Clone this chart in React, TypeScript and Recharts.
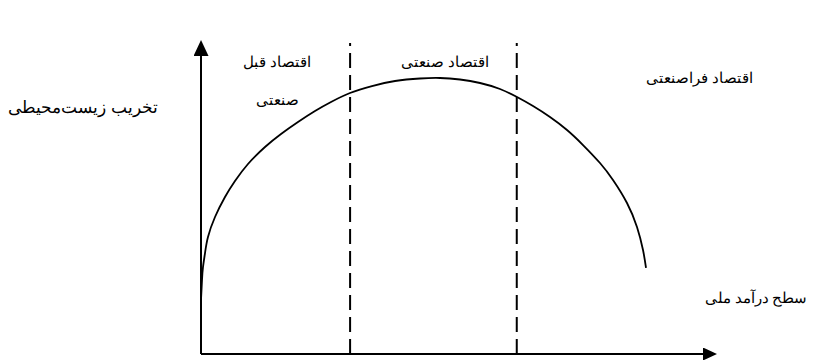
import { LineChart, Line, XAxis, YAxis, ReferenceLine, Label } from "recharts";

// national income level (0-100) vs environmental degradation (0-100)
const incomeLevel = [
  0, 0.2, 0.4, 0.8, 1.39, 2.79, 4.78, 6.77, 9.36, 12.75, 15.94, 19.32, 22.71, 25.9, 29.68, 34.06, 38.65,
  43.63, 47.61, 51.59, 55.58, 59.56, 62.95, 66.14, 69.52, 72.91, 76.1, 79.48, 82.07, 84.86, 86.85, 88.05, 88.65,
];
const degradation = [
  18.12, 24.83, 29.19, 33.89, 39.26, 45.97, 52.68, 58.05, 63.76, 69.46, 73.83, 77.85, 81.54, 84.56, 87.58, 89.93, 91.61,
  92.45, 92.62, 92.11, 90.94, 88.93, 86.24, 83.22, 79.53, 75.17, 70.13, 64.09, 58.39, 50.67, 42.62, 34.9, 28.86,
];

// boundaries between economic stages
const stageBounds = [29.7, 62.9];
const dividerTop = 104.4;

const yAxisTitle = "تخریب زیست‌محیطی";
const xAxisTitle = "سطح درآمد ملی";
const preIndustrial = ["اقتصاد قبل", "صنعتی"];
const industrial = "اقتصاد صنعتی";
const postIndustrial = "اقتصاد فراصنعتی";

const data = incomeLevel.map((x, i) => ({ x, y: degradation[i] }));

const FONT = "'Times New Roman', 'Liberation Serif', 'DejaVu Serif', serif";

type VB = { x?: number; y?: number; width?: number; height?: number };

const textAt = (lines: { text: string; dx: number; dy: number; size?: number }[], fromRight = false) =>
  (props: any) => {
    const vb: VB = props.viewBox || {};
    const bx = (vb.x ?? 0) + (fromRight ? vb.width ?? 0 : 0);
    const by = vb.y ?? 0;
    return (
      <g>
        {lines.map((l, i) => (
          <text
            key={i}
            x={bx + l.dx}
            y={by + l.dy}
            textAnchor="middle"
            dominantBaseline="central"
            fontFamily={FONT}
            fontSize={l.size ?? 15}
            fill="#000"
          >
            {l.text}
          </text>
        ))}
      </g>
    );
  };

export default function App() {
  return (
    <div style={{ position: "absolute", left: 0, top: 0, background: "#fff" }}>
      <LineChart width={815} height={360} data={data} margin={{ top: 56, right: 112, bottom: 5, left: 200 }}>
        <defs>
          <marker id="arrowX" markerWidth={14} markerHeight={13} refX={0} refY={6.5} orient="auto" markerUnits="userSpaceOnUse">
            <path d="M0,0 L14,6.5 L0,13 z" fill="#000" />
          </marker>
          <marker id="arrowY" markerWidth={16} markerHeight={15} refX={0} refY={7.5} orient="auto-start-reverse" markerUnits="userSpaceOnUse">
            <path d="M0,0 L16,7.5 L0,15 z" fill="#000" />
          </marker>
        </defs>
        <XAxis
          type="number"
          dataKey="x"
          domain={[0, 100]}
          height={1}
          tick={false}
          tickLine={false}
          axisLine={{ stroke: "#000", strokeWidth: 2, markerEnd: "url(#arrowX)" }}
        >
          <Label content={textAt([{ text: xAxisTitle, dx: 53, dy: -56 }], true)} />
        </XAxis>
        <YAxis
          type="number"
          domain={[0, 100]}
          width={1}
          tick={false}
          tickLine={false}
          axisLine={{ stroke: "#000", strokeWidth: 2, markerStart: "url(#arrowY)" }}
        >
          <Label content={textAt([{ text: yAxisTitle, dx: -117, dy: 51, size: 16.5 }])} />
        </YAxis>
        <ReferenceLine
          segment={[{ x: stageBounds[0], y: 0 }, { x: stageBounds[0], y: dividerTop }]}
          stroke="#000"
          strokeWidth={2}
          strokeDasharray="15 7"
          ifOverflow="visible"
        >
          <Label
            content={textAt([
              { text: preIndustrial[0], dx: -73, dy: 19 },
              { text: preIndustrial[1], dx: -73, dy: 57 },
            ])}
          />
        </ReferenceLine>
        <ReferenceLine
          segment={[{ x: stageBounds[1], y: 0 }, { x: stageBounds[1], y: dividerTop }]}
          stroke="#000"
          strokeWidth={2}
          strokeDasharray="15 7"
          ifOverflow="visible"
        >
          <Label
            content={textAt([
              { text: industrial, dx: -72, dy: 19 },
              { text: postIndustrial, dx: 183, dy: 35 },
            ])}
          />
        </ReferenceLine>
        <Line
          type="natural"
          dataKey="y"
          stroke="#000"
          strokeWidth={1.8}
          dot={false}
          activeDot={false}
          isAnimationActive={false}
        />
      </LineChart>
    </div>
  );
}
